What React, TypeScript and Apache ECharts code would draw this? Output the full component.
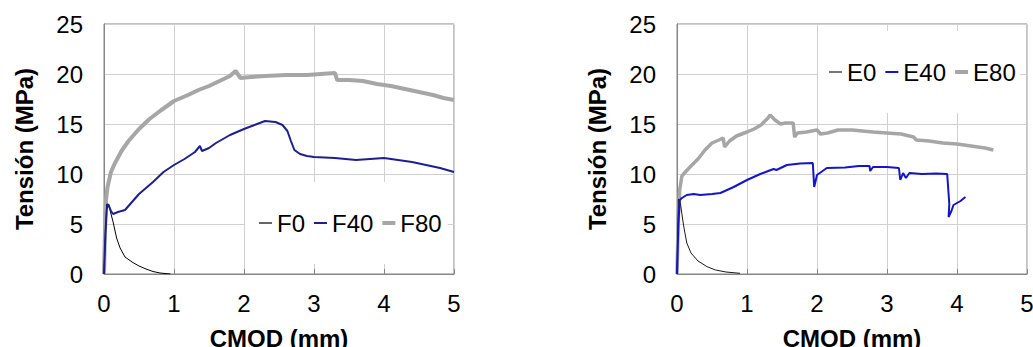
import React, { useEffect, useRef } from "react";
import * as echarts from "echarts";

// CMOD (mm) vs Tensión (MPa)
const seriesF0: number[][] = [
  [0, 0], [0.01, 2], [0.02, 4], [0.04, 7], [0.07, 6.9], [0.1, 6.0], [0.13, 5.2], [0.18, 3.6],
  [0.23, 2.6], [0.3, 1.7], [0.4, 1.2], [0.5, 0.8], [0.6, 0.5], [0.7, 0.25], [0.8, 0.1], [0.95, 0.0],
];
const seriesF40: number[][] = [
  [0, 0], [0.02, 4], [0.04, 6.5], [0.06, 7.0], [0.1, 6.3], [0.13, 6.0], [0.2, 6.2], [0.3, 6.4],
  [0.4, 7.2], [0.5, 8.0], [0.7, 9.2], [0.85, 10.2], [1.0, 10.9], [1.15, 11.5], [1.3, 12.2],
  [1.37, 12.8], [1.4, 12.3], [1.5, 12.6], [1.6, 13.1], [1.8, 13.9], [2.0, 14.5], [2.15, 14.9],
  [2.3, 15.3], [2.45, 15.2], [2.55, 14.9], [2.62, 14.3], [2.67, 13.3], [2.72, 12.4], [2.8, 12.0],
  [2.9, 11.8], [3.0, 11.7], [3.3, 11.6], [3.6, 11.4], [3.8, 11.5], [4.0, 11.6], [4.2, 11.4],
  [4.4, 11.2], [4.6, 10.9], [4.8, 10.6], [5.0, 10.2],
];
const seriesF80: number[][] = [
  [0, 0], [0.01, 3], [0.02, 6], [0.03, 7.5], [0.05, 8.7], [0.1, 10.2], [0.15, 11.0], [0.25, 12.3],
  [0.35, 13.3], [0.5, 14.5], [0.65, 15.5], [0.8, 16.3], [1.0, 17.3], [1.2, 17.9], [1.35, 18.4],
  [1.5, 18.8], [1.65, 19.3], [1.8, 19.8], [1.88, 20.3], [1.92, 19.9], [1.95, 19.6], [2.1, 19.7],
  [2.3, 19.8], [2.6, 19.9], [2.9, 19.9], [3.1, 20.0], [3.3, 20.1], [3.33, 19.4], [3.5, 19.4],
  [3.7, 19.3], [3.9, 19.0], [4.1, 18.8], [4.3, 18.5], [4.5, 18.2], [4.7, 17.9], [4.85, 17.6], [5.0, 17.4],
];
const seriesE0: number[][] = [
  [0, 0], [0.01, 4], [0.02, 7.5], [0.05, 7.0], [0.08, 5.5], [0.1, 4.6], [0.14, 3.1], [0.2, 2.1],
  [0.3, 1.3], [0.43, 0.73], [0.55, 0.4], [0.7, 0.2], [0.9, 0.07],
];
const seriesE40: number[][] = [
  [0, 0], [0.02, 5], [0.04, 7.4], [0.07, 7.6], [0.14, 7.9], [0.24, 8.0], [0.33, 7.9], [0.5, 8.0],
  [0.62, 8.1], [0.81, 8.7], [1.0, 9.4], [1.19, 10.0], [1.38, 10.5], [1.42, 10.4], [1.57, 10.9],
  [1.76, 11.05], [1.94, 11.1], [1.96, 8.7], [2.0, 9.9], [2.14, 10.6], [2.4, 10.65], [2.6, 10.8],
  [2.75, 10.8], [2.76, 10.3], [2.8, 10.7], [3.0, 10.7], [3.17, 10.6], [3.19, 9.4], [3.23, 10.1],
  [3.27, 9.6], [3.32, 10.1], [3.5, 10.0], [3.7, 10.05], [3.86, 10.0], [3.89, 7.0], [3.88, 5.7],
  [3.92, 6.3], [3.95, 6.9], [4.0, 7.1], [4.05, 7.3], [4.12, 7.7],
];
const seriesE80: number[][] = [
  [0, 0], [0.01, 3], [0.02, 6], [0.04, 8.5], [0.07, 9.8], [0.12, 10.2], [0.2, 10.8], [0.3, 11.5],
  [0.4, 12.4], [0.5, 13.1], [0.6, 13.4], [0.66, 13.6], [0.68, 12.7], [0.75, 13.3], [0.85, 13.8],
  [1.0, 14.2], [1.1, 14.5], [1.2, 14.9], [1.3, 15.6], [1.33, 15.9], [1.4, 15.4], [1.48, 15.0],
  [1.55, 15.1], [1.66, 15.1], [1.68, 13.7], [1.72, 14.1], [1.85, 14.2], [2.0, 14.4], [2.05, 14.0],
  [2.15, 14.1], [2.3, 14.4], [2.5, 14.4], [2.8, 14.2], [3.0, 14.1], [3.2, 14.0], [3.38, 13.7],
  [3.42, 13.4], [3.6, 13.3], [3.8, 13.1], [4.0, 13.0], [4.2, 12.8], [4.4, 12.6], [4.52, 12.4],
];

const xTicksMax = 5;
const yTicksMax = 25;
const xAxisTitle = "CMOD (mm)";
const yAxisTitle = "Tensión (MPa)";

const FONT = "'Liberation Sans', Arial, sans-serif";
const GRID_LINE = "#d0d0d0";
const BORDER = "#868686";

function xAxisFor(gridIndex: number) {
  return {
    type: "value",
    gridIndex,
    min: 0,
    max: xTicksMax,
    interval: 1,
    name: xAxisTitle,
    nameLocation: "middle",
    nameGap: 52,
    nameTextStyle: { fontFamily: FONT, fontSize: 24, fontWeight: "bold", color: "#000" },
    axisLine: { show: true, lineStyle: { color: BORDER, width: 1 } },
    axisTick: { show: true, inside: true, length: 5, lineStyle: { color: BORDER } },
    axisLabel: { fontFamily: FONT, fontSize: 24, color: "#000", margin: 17 },
    splitLine: { show: true, lineStyle: { color: GRID_LINE, width: 1 } },
  };
}

function yAxisFor(gridIndex: number) {
  return {
    type: "value",
    gridIndex,
    min: 0,
    max: yTicksMax,
    interval: 5,
    name: yAxisTitle,
    nameLocation: "middle",
    nameGap: 68,
    nameRotate: 90,
    nameTextStyle: { fontFamily: FONT, fontSize: 24, fontWeight: "bold", color: "#000" },
    axisLine: { show: true, lineStyle: { color: BORDER, width: 1 } },
    axisTick: { show: false },
    axisLabel: { fontFamily: FONT, fontSize: 24, color: "#000", margin: 21 },
    splitLine: { show: true, lineStyle: { color: GRID_LINE, width: 1 } },
  };
}

function lineSeries(name: string, data: number[][], idx: number, color: string, width: number) {
  return {
    name,
    type: "line",
    xAxisIndex: idx,
    yAxisIndex: idx,
    data,
    showSymbol: false,
    symbol: "none",
    lineStyle: { color, width },
    itemStyle: { color },
    z: width > 2 ? 2 : 3,
  };
}

const legendBase = {
  orient: "horizontal",
  itemWidth: 13,
  itemHeight: 14,
  itemGap: 9,
  backgroundColor: "#ffffff",
  textStyle: { fontFamily: FONT, fontSize: 24, color: "#000" },
  selectedMode: false,
};

export default function App() {
  const ref = useRef<HTMLDivElement>(null);
  useEffect(() => {
    if (!ref.current) return;
    const chart = echarts.init(ref.current, undefined, { renderer: "svg" });
    chart.setOption({
      animation: false,
      backgroundColor: "#ffffff",
      grid: [
        { left: 104, top: 24, width: 350, height: 250, outerBoundsMode: "none", containLabel: false, show: true, borderColor: BORDER, borderWidth: 1, backgroundColor: "transparent" },
        { left: 677, top: 24, width: 350, height: 250, outerBoundsMode: "none", containLabel: false, show: true, borderColor: BORDER, borderWidth: 1, backgroundColor: "transparent" },
      ],
      xAxis: [xAxisFor(0), xAxisFor(1)],
      yAxis: [yAxisFor(0), yAxisFor(1)],
      legend: [
        {
          ...legendBase,
          left: 245,
          top: 182,
          padding: [29, 6, 29, 14],
          data: [
            { name: "F0", icon: "path://M0 0h13v1.2H0z" },
            { name: "F40", icon: "path://M0 0h13v2H0z" },
            { name: "F80", icon: "path://M0 0h13v4H0z" },
          ],
        },
        {
          ...legendBase,
          left: 818,
          top: 31,
          padding: [29, 4, 29, 11],
          data: [
            { name: "E0", icon: "path://M0 0h13v1.2H0z" },
            { name: "E40", icon: "path://M0 0h13v2H0z" },
            { name: "E80", icon: "path://M0 0h13v4H0z" },
          ],
        },
      ],
      series: [
        lineSeries("F0", seriesF0, 0, "#000000", 1),
        lineSeries("F40", seriesF40, 0, "#1f1f8c", 2),
        lineSeries("F80", seriesF80, 0, "#a6a6a6", 4),
        lineSeries("E0", seriesE0, 1, "#1a1a1a", 1),
        lineSeries("E40", seriesE40, 1, "#1414c8", 2),
        lineSeries("E80", seriesE80, 1, "#a6a6a6", 3.5),
      ],
    });
    return () => chart.dispose();
  }, []);
  return (
    <div
      ref={ref}
      style={{ position: "fixed", left: 0, top: 0, width: 1033, height: 347, background: "#fff" }}
    />
  );
}
